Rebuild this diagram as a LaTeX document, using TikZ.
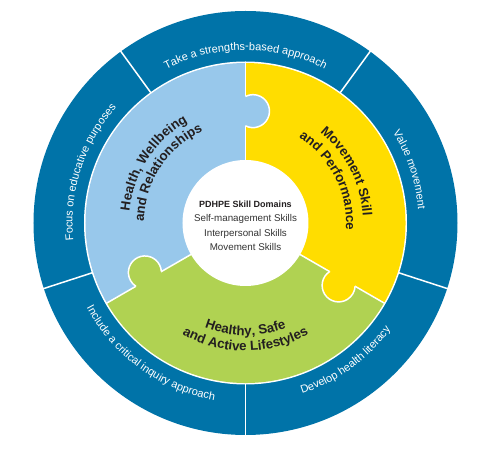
\documentclass[tikz,border=0pt]{standalone}
\usepackage{fontspec}
\setmainfont{Liberation Sans}
\usetikzlibrary{decorations.text}
\definecolor{ringblue}{HTML}{0073A8}
\definecolor{hwrblue}{HTML}{98C8EB}
\definecolor{mspyellow}{HTML}{FFDD00}
\definecolor{hsalgreen}{HTML}{B0D252}
\definecolor{labelblack}{HTML}{231F20}
\newcommand{\ringfont}{\fontsize{11}{13}\selectfont\color{white}}
\newcommand{\piecefont}{\fontsize{13.3}{15}\selectfont\bfseries\color{labelblack}}

\begin{document}
\begin{tikzpicture}[x=1pt, y=1pt,
  ringtext/.style={decorate, decoration={text along path, text align=center, text={|\ringfont|#1}}},
  piecetext/.style={decorate, decoration={text along path, text align=center, text={|\piecefont|#1}}},
  gap/.style={white, line width=1.5pt}]
\useasboundingbox (-245.5,-234) rectangle (250.5,223);

\fill[ringblue] (0,0) circle[radius=212];
\fill[white] (0,0) circle[radius=161.5];

\fill[hwrblue] (0,0) -- (90:160) arc[start angle=90, end angle=210, radius=160] -- cycle;
\fill[hsalgreen] (0,0) -- (210:160) arc[start angle=210, end angle=330, radius=160] -- cycle;
\fill[mspyellow] (0,0) -- (330:160) arc[start angle=330, end angle=450, radius=160] -- cycle;
\foreach \a in {90,210,330} \draw[gap] (0,0) -- (\a:161);

% puzzle knobs
\foreach \a/\col in {90/hwrblue, 210/hsalgreen, 330/mspyellow} {
  \begin{scope}[rotate=\a]
    \fill[\col] (112,-7.5) circle[radius=16.5];
    \draw[gap] (97.16,0) arc[start angle=153, end angle=387, radius=16.5];
  \end{scope}
}

\node[circle, fill=white, minimum size=126pt, inner sep=0pt] (core) at (0,0) {};
\node[align=center, font=\fontsize{9.8}{14.5}\selectfont, text=black!80] (domains) at (0,-3)
  {\textcolor{labelblack}{\fontsize{9}{14.5}\selectfont\bfseries PDHPE Skill Domains}\\Self-management Skills\\Interpersonal Skills\\Movement Skills};

\foreach \a in {54,126,198,270,342} \draw[gap] (\a:161) -- (\a:213);

% outer ring
\path[ringtext={Take a strengths-based approach}] (126:173) arc[start angle=126, end angle=54, radius=173];
\path[ringtext={Value movement}] (54:173) arc[start angle=54, end angle=-18, radius=173];
\path[ringtext={Develop health literacy}] (-90:180) arc[start angle=-90, end angle=-18, radius=180];
\path[ringtext={Include a critical inquiry approach}] (-162:180) arc[start angle=-162, end angle=-90, radius=180];
\path[ringtext={Focus on educative purposes}] (198:173) arc[start angle=198, end angle=126, radius=173];

% puzzle pieces
\path[piecetext={Health, Wellbeing}] (207:116.5) arc[start angle=207, end angle=87, radius=116.5];
\path[piecetext={and Relationships}] (207:101.5) arc[start angle=207, end angle=87, radius=101.5];
\path[piecetext={Movement Skill}] (87:117.5) arc[start angle=87, end angle=-33, radius=117.5];
\path[piecetext={and Performance}] (87:100.5) arc[start angle=87, end angle=-33, radius=100.5];
\path[piecetext={Healthy, Safe}] (-150:112.5) arc[start angle=-150, end angle=-30, radius=112.5];
\path[piecetext={and Active Lifestyles}] (-150:128) arc[start angle=-150, end angle=-30, radius=128];

\end{tikzpicture}
\end{document}
